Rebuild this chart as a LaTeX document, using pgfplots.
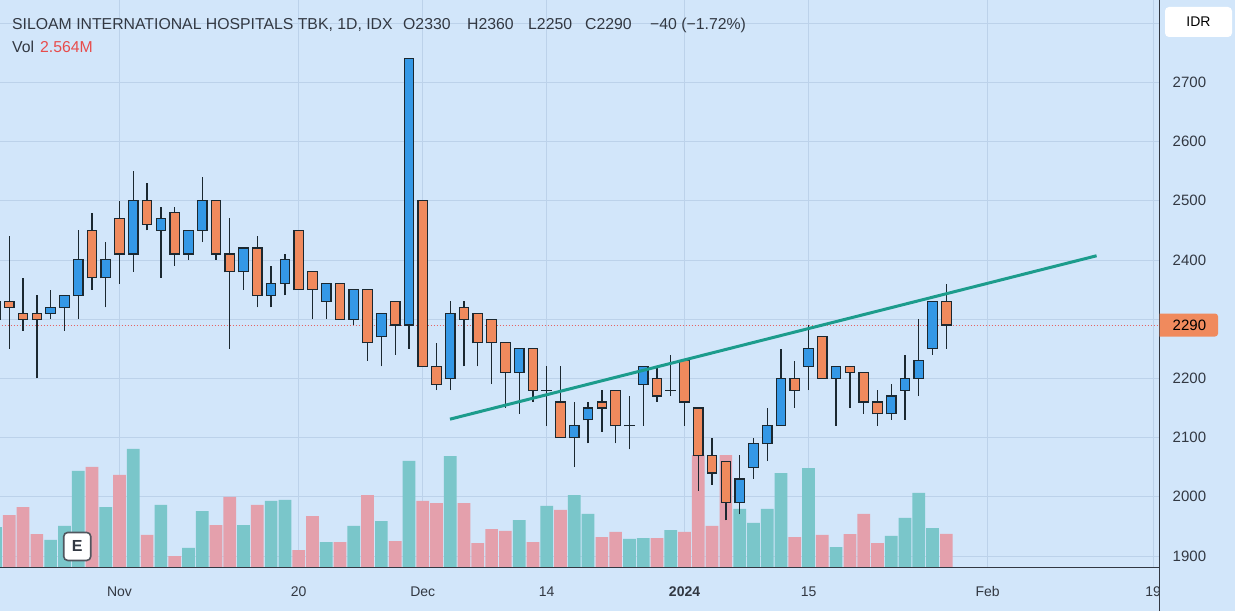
\documentclass[border=0pt]{standalone}
\usepackage{fontspec}
\setmainfont{Liberation Sans}
\usepackage{pgfplots}
\usepackage{pgfplotstable}
\pgfplotsset{compat=1.18}

\definecolor{bg}{RGB}{210,230,250}
\definecolor{gridc}{RGB}{188,210,234}
\definecolor{upc}{RGB}{52,152,230}
\definecolor{dnc}{RGB}{240,138,93}
\definecolor{edge}{RGB}{27,40,48}
\definecolor{volup}{RGB}{122,198,202}
\definecolor{voldn}{RGB}{228,160,172}
\definecolor{trend}{RGB}{28,156,140}
\definecolor{txt}{RGB}{50,56,66}
\definecolor{lastc}{RGB}{230,100,100}
\definecolor{volred}{RGB}{232,76,76}

% daily candles: index, open, high, low, close, volume (millions)
\pgfplotstableread{
i o h l c v
0 2300 2340 2280 2330 3.10
1 2330 2440 2250 2320 4.04
2 2310 2370 2280 2300 4.66
3 2310 2340 2200 2300 2.56
4 2310 2350 2300 2320 2.10
5 2320 2340 2280 2340 3.19
6 2340 2450 2300 2400 7.46
7 2450 2480 2350 2370 7.77
8 2370 2430 2320 2400 4.66
9 2470 2500 2360 2410 7.15
10 2410 2550 2380 2500 9.17
11 2500 2530 2450 2460 2.49
12 2450 2490 2370 2470 4.82
13 2480 2490 2390 2410 0.85
14 2410 2450 2400 2450 1.48
15 2450 2540 2430 2500 4.35
16 2500 2500 2400 2410 3.26
17 2410 2470 2250 2380 5.44
18 2380 2420 2350 2420 3.26
19 2420 2440 2320 2340 4.82
20 2340 2390 2320 2360 5.13
21 2360 2410 2340 2400 5.21
22 2450 2450 2350 2350 1.32
23 2380 2380 2300 2350 3.96
24 2330 2360 2300 2360 1.94
25 2360 2360 2300 2300 1.94
26 2300 2350 2290 2350 3.19
27 2350 2350 2230 2260 5.59
28 2270 2310 2220 2310 3.57
29 2330 2330 2240 2290 2.02
30 2290 2740 2250 2740 8.24
31 2500 2500 2220 2220 5.13
32 2220 2260 2180 2190 4.97
33 2200 2330 2180 2310 8.62
34 2320 2330 2220 2300 4.97
35 2310 2310 2220 2260 1.86
36 2300 2300 2190 2260 2.95
37 2260 2260 2150 2210 2.80
38 2210 2250 2140 2250 3.65
39 2250 2250 2160 2180 1.94
40 2180 2220 2120 2180 4.74
41 2160 2220 2100 2100 4.43
42 2100 2160 2050 2120 5.59
43 2130 2160 2090 2150 4.12
44 2160 2180 2110 2150 2.33
45 2180 2180 2090 2120 2.72
46 2120 2170 2080 2120 2.18
47 2190 2220 2120 2220 2.25
48 2200 2220 2160 2170 2.25
49 2180 2240 2170 2180 2.87
50 2230 2230 2120 2160 2.72
51 2150 2150 2010 2070 8.70
52 2070 2100 2020 2040 3.19
53 2060 2060 1960 1990 8.70
54 1990 2070 1970 2030 4.51
55 2050 2100 2030 2090 3.42
56 2090 2150 2060 2120 4.51
57 2120 2250 2120 2200 7.30
58 2200 2230 2150 2180 2.33
59 2220 2290 2180 2250 7.69
60 2270 2270 2200 2200 2.49
61 2200 2220 2120 2220 1.55
62 2220 2220 2150 2210 2.56
63 2210 2210 2140 2160 4.12
64 2160 2180 2120 2140 1.86
65 2140 2190 2130 2170 2.41
66 2180 2240 2130 2200 3.81
67 2200 2300 2170 2230 5.75
68 2250 2330 2240 2330 3.03
69 2330 2360 2250 2290 2.564
}\candles

\begin{document}
\begin{tikzpicture}[x=1pt,y=1pt]
\path[use as bounding box] (0,0) rectangle (1235,611);
\fill[bg] (0,0) rectangle (1235,611);
\begin{axis}[
    at={(0pt,44pt)}, anchor=south west,
    scale only axis, width=1159.5pt, height=567pt,
    xmin=0.325, xmax=84.47, ymin=1881.3, ymax=2839,
    axis line style={draw=none},
    major tick length=0pt,
    grid=major, grid style={gridc, line width=0.8pt},
    xtick={9,22,31,40,50,59,72,84},
    xticklabels={Nov,20,Dec,14,\textbf{2024},15,Feb,19},
    xticklabel style={anchor=base, inner sep=0pt, yshift=-29pt, font=\fontsize{14}{16}\selectfont, text=txt},
    ytick={1900,2000,...,2800},
    yticklabels={1900,2000,2100,2200,,2400,2500,2600,2700,},
    yticklabel pos=right,
    yticklabel style={anchor=west, inner sep=0pt, xshift=13pt, font=\fontsize{15}{16}\selectfont, text=txt},
  ]
  % volume
  \addplot[ybar, bar width=12.7pt, bar shift=0pt, fill=volup, draw=none,
    restrict expr to domain={\thisrow{c}-\thisrow{o}}{0:5000}]
    table[x=i, y expr={1881.3+\thisrow{v}*21.74}] {\candles};
  \addplot[ybar, bar width=12.7pt, bar shift=0pt, fill=voldn, draw=none,
    restrict expr to domain={\thisrow{c}-\thisrow{o}}{-5000:-1}]
    table[x=i, y expr={1881.3+\thisrow{v}*21.74}] {\candles};
  % last price line
  \addplot[lastc, line width=1pt, dash pattern=on 1pt off 2pt] coordinates {(0,2290) (85,2290)};
  % wicks
  \addplot[draw=edge, line width=1.3pt, quiver={u=0, v={\thisrow{h}-\thisrow{l}}}]
    table[x=i, y=l] {\candles};
  % body outlines
  \addplot[draw=edge, line width=10.7pt, quiver={u=0, v={abs(\thisrow{c}-\thisrow{o})+2}}]
    table[x=i, y expr={min(\thisrow{o},\thisrow{c})-1}] {\candles};
  % body fills
  \addplot[draw=upc, line width=8.3pt, restrict expr to domain={\thisrow{c}-\thisrow{o}}{1:5000},
    quiver={u=0, v={\thisrow{c}-\thisrow{o}-2}}]
    table[x=i, y expr={\thisrow{o}+1}] {\candles};
  \addplot[draw=dnc, line width=8.3pt, restrict expr to domain={\thisrow{c}-\thisrow{o}}{-5000:-1},
    quiver={u=0, v={\thisrow{o}-\thisrow{c}-2}}]
    table[x=i, y expr={\thisrow{c}+1}] {\candles};
  % trend line
  \addplot[trend, line width=3pt] coordinates {(32.98,2131) (79.9,2407)};
  % earnings marker
  \node[draw=txt!85, line width=1.6pt, fill=white, rounded corners=4pt, minimum width=27pt,
    minimum height=28pt, inner sep=0pt, text=txt, font=\bfseries\fontsize{16}{16}\selectfont]
    at (axis cs:5.93,1916) {E};
  \coordinate (lastp) at (axis cs:84.47,2290);
\end{axis}
% right price scale and bottom time scale frame
\fill[bg] (1159.5,0) rectangle (1235,44);
\draw[txt, line width=1pt] (0,44) -- (1159.5,44);
\draw[txt, line width=1pt] (1159.5,0) -- (1159.5,611);
\fill[white, rounded corners=4pt] (1165,574) rectangle (1232,604);
\node[text=black, font=\fontsize{14}{16}\selectfont] at (1198.5,589) {IDR};
\fill[dnc] ([yshift=-11.5pt]lastp) -- ++(55.5,0) arc[start angle=-90, end angle=0, radius=3]
  -- ++(0,17) arc[start angle=0, end angle=90, radius=3] -- ++(-55.5,0) -- cycle;
\node[text=black, font=\fontsize{15}{16}\selectfont, anchor=west, inner sep=0pt] at ([xshift=13pt]lastp) {2290};
% legend header
\begin{scope}[every node/.style={anchor=base west, inner sep=0pt, text=txt, font=\fontsize{15.8}{17}\selectfont}]
\node at (12,581) {SILOAM INTERNATIONAL HOSPITALS TBK, 1D, IDX};
\node at (403,581) {O2330};
\node at (467,581) {H2360};
\node at (528,581) {L2250};
\node at (585,581) {C2290};
\node at (650,581) {−40 (−1.72\%)};
\node at (12,558) {Vol};
\node[text=volred] at (40,558) {2.564M};
\end{scope}
\end{tikzpicture}
\end{document}
